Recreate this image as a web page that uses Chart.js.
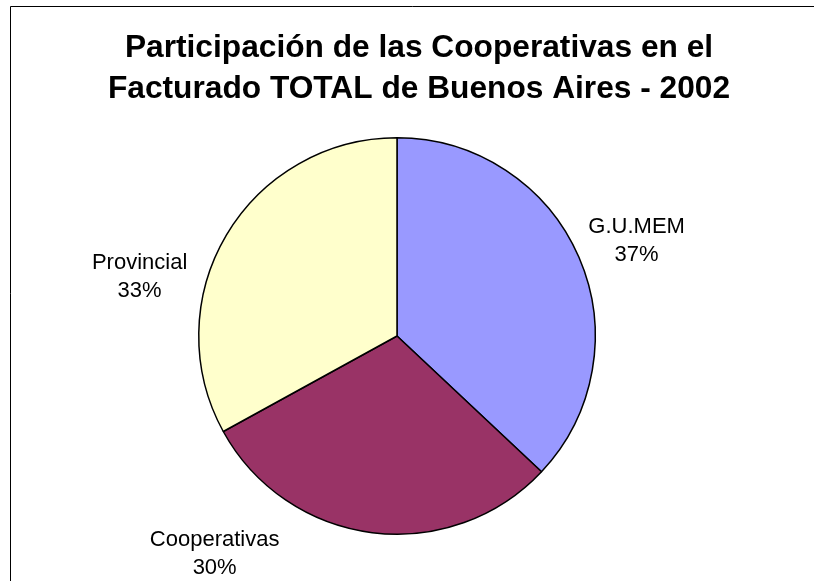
<!DOCTYPE html>
<html>
<head>
<meta charset="utf-8">
<script src="https://cdn.jsdelivr.net/npm/chart.js@4.4.0/dist/chart.umd.min.js"></script>
<style>
html,body{margin:0;padding:0;background:#ffffff;}
canvas{display:block;}
</style>
</head>
<body>
<canvas id="c" width="814" height="581"></canvas>
<script>
// ---- data ----
const titleLines = ["Participación de las Cooperativas en el", "Facturado TOTAL de Buenos Aires - 2002"];
const categories = ["G.U.MEM", "Cooperativas", "Provincial"];
const values = [37, 30, 33];
const sliceColors = ["#9999FF", "#993366", "#FFFFCC"];

// label placement relative to each slice (angle shift in degrees, radius factor)
const labelPlacement = [
  {dA: 1.8, k: 1.30},
  {dA: 32.7, k: 1.434},
  {dA: -17.7, k: 1.332}
];

const framePlugin = {
  id: 'frameAndTitle',
  beforeDraw(chart) {
    const ctx = chart.ctx;
    ctx.save();
    ctx.fillStyle = '#ffffff';
    ctx.fillRect(0, 0, chart.width, chart.height);
    ctx.strokeStyle = '#000000';
    ctx.lineWidth = 1;
    ctx.beginPath();
    ctx.moveTo(10.5, chart.height);
    ctx.lineTo(10.5, 6.5);
    ctx.lineTo(chart.width, 6.5);
    ctx.stroke();
    ctx.fillStyle = '#000000';
    ctx.font = 'bold 31.7px "Liberation Sans", Arial, sans-serif';
    ctx.textAlign = 'center';
    ctx.textBaseline = 'alphabetic';
    ctx.fillText(titleLines[0], 419, 57);
    ctx.fillText(titleLines[1], 419, 98);
    ctx.restore();
  }
};

const labelPlugin = {
  id: 'pieLabels',
  afterDatasetsDraw(chart) {
    const ctx = chart.ctx;
    const meta = chart.getDatasetMeta(0);
    const data = chart.data.datasets[0].data;
    const total = data.reduce((a, b) => a + b, 0);
    ctx.save();
    ctx.fillStyle = '#000000';
    ctx.font = '22px "Liberation Sans", Arial, sans-serif';
    ctx.textAlign = 'center';
    ctx.textBaseline = 'middle';
    meta.data.forEach((arc, i) => {
      const p = arc.getProps(['x', 'y', 'startAngle', 'endAngle', 'outerRadius'], true);
      const place = labelPlacement[i];
      const mid = (p.startAngle + p.endAngle) / 2 + place.dA * Math.PI / 180;
      const r = p.outerRadius * place.k;
      const lx = p.x + Math.cos(mid) * r;
      const ly = p.y + Math.sin(mid) * r;
      const pct = Math.round(data[i] / total * 100) + '%';
      ctx.fillText(chart.data.labels[i], lx, ly - 14);
      ctx.fillText(pct, lx, ly + 14);
    });
    ctx.restore();
  }
};

new Chart(document.getElementById('c'), {
  type: 'pie',
  data: {
    labels: categories,
    datasets: [{
      data: values,
      backgroundColor: sliceColors,
      borderColor: '#000000',
      borderWidth: 1.5,
      hoverOffset: 0
    }]
  },
  options: {
    responsive: false,
    animation: false,
    events: [],
    layout: {padding: {top: 137, bottom: 46, left: 10, right: 30}},
    plugins: {
      legend: {display: false},
      title: {display: false},
      tooltip: {enabled: false}
    }
  },
  plugins: [framePlugin, labelPlugin]
});
</script>
</body>
</html>
